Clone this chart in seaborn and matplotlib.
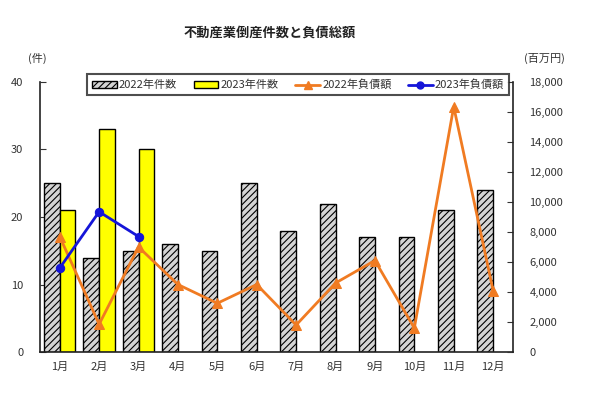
import numpy as np
import pandas as pd
import matplotlib
matplotlib.use("Agg")
import matplotlib.pyplot as plt
import matplotlib.patches as mpatches
from matplotlib.lines import Line2D
from matplotlib.ticker import FuncFormatter, FixedLocator
import seaborn as sns

# data
months = ["1月", "2月", "3月", "4月", "5月", "6月", "7月", "8月", "9月", "10月", "11月", "12月"]
cases_2022 = [25, 14, 15, 16, 15, 25, 18, 22, 17, 17, 21, 24]
cases_2023 = [21, 33, 30]
debt_2022 = [7700, 1850, 7000, 4500, 3250, 4500, 1800, 4600, 6100, 1600, 16350, 4100]
debt_2023 = [5600, 9350, 7700]

series_names = ["2022年件数", "2023年件数", "2022年負債額", "2023年負債額"]

sns.set_style("white")
plt.rcParams["font.family"] = ["Noto Sans CJK JP", "DejaVu Sans"]
plt.rcParams["hatch.color"] = "#5a5a5a"
plt.rcParams["hatch.linewidth"] = 0.8

# long table for the bars
bars = pd.DataFrame({
    "month": months + months[:len(cases_2023)],
    "series": [series_names[0]] * len(cases_2022) + [series_names[1]] * len(cases_2023),
    "count": cases_2022 + cases_2023,
})

fig = plt.figure(figsize=(6, 3.96), dpi=100)
ax = fig.add_axes([0.0667, 0.111, 0.788, 0.682])

gray = "#d4d4d4"
yellow = "#ffff00"
orange = "#f07b22"
blue = "#1515d8"

sns.barplot(data=bars, x="month", y="count", hue="series", order=months,
            hue_order=series_names[:2], palette=[gray, yellow], errorbar=None,
            saturation=1, edgecolor="black", linewidth=1.0, width=0.8, ax=ax, legend=False)
for p in ax.containers[0]:
    p.set_hatch("/////")

ax.set_ylim(0, 40)
ax.set_xlim(-0.5, len(months) - 0.5)
ax.set_yticks(range(0, 41, 10))
ax.set_xlabel("")
ax.set_ylabel("")
ax.xaxis.set_minor_locator(FixedLocator(np.arange(-0.5, len(months), 1.0)))
ax.tick_params(axis="x", which="major", length=0, pad=7, labelsize=8, colors="#333333")
ax.tick_params(axis="x", which="minor", length=3, direction="in", width=1)
ax.tick_params(axis="y", length=4, direction="in", pad=12, labelsize=8, colors="#333333")
for s in ["left", "bottom"]:
    ax.spines[s].set_linewidth(1.2)
    ax.spines[s].set_color("#222222")
ax.spines["top"].set_visible(False)
ax.spines["right"].set_visible(False)

# debt lines on the right axis
ax2 = ax.twinx()
x_all = np.arange(len(months))
sns.lineplot(x=x_all, y=debt_2022, ax=ax2, color=orange, marker="^", markersize=7,
             markeredgecolor=orange, linewidth=2)
sns.lineplot(x=x_all[:len(debt_2023)], y=debt_2023, ax=ax2, color=blue, marker="o",
             markersize=6, markeredgecolor=blue, linewidth=2)
ax2.set_ylim(0, 18000)
ax2.set_yticks(range(0, 18001, 2000))
ax2.yaxis.set_major_formatter(FuncFormatter(lambda v, p: f"{int(v):,}"))
ax2.tick_params(axis="y", length=4, direction="in", pad=12, labelsize=8, colors="#333333")
ax2.spines["right"].set_linewidth(1.2)
ax2.spines["right"].set_color("#222222")
for s in ["top", "left", "bottom"]:
    ax2.spines[s].set_visible(False)
ax2.set_xlim(-0.5, len(months) - 0.5)

# legend
handles = [
    mpatches.Patch(facecolor=gray, edgecolor="black", hatch="/////", linewidth=1),
    mpatches.Patch(facecolor=yellow, edgecolor="black", linewidth=1),
    Line2D([0], [0], color=orange, marker="^", markersize=6, linewidth=2),
    Line2D([0], [0], color=blue, marker="o", markersize=5, linewidth=2),
]
leg = fig.legend(handles, series_names, loc="upper center", bbox_to_anchor=(0.497, 0.826),
                 ncol=4, fontsize=8, frameon=True, fancybox=False, edgecolor="#222222",
                 handlelength=2.2, handleheight=0.6, handletextpad=0.2, columnspacing=1.5,
                 borderpad=0.45, labelcolor="#333333")
leg.get_frame().set_linewidth(1.5)

fig.text(0.45, 0.917, "不動産業倒産件数と負債総額", ha="center", va="center",
         fontsize=9.5, fontweight="bold", color="#222222")
fig.text(0.063, 0.853, "(件)", ha="center", va="center", fontsize=8, color="#333333")
fig.text(0.908, 0.853, "(百万円)", ha="center", va="center", fontsize=8, color="#333333")

fig.savefig("out.png", dpi=100, facecolor="white")
